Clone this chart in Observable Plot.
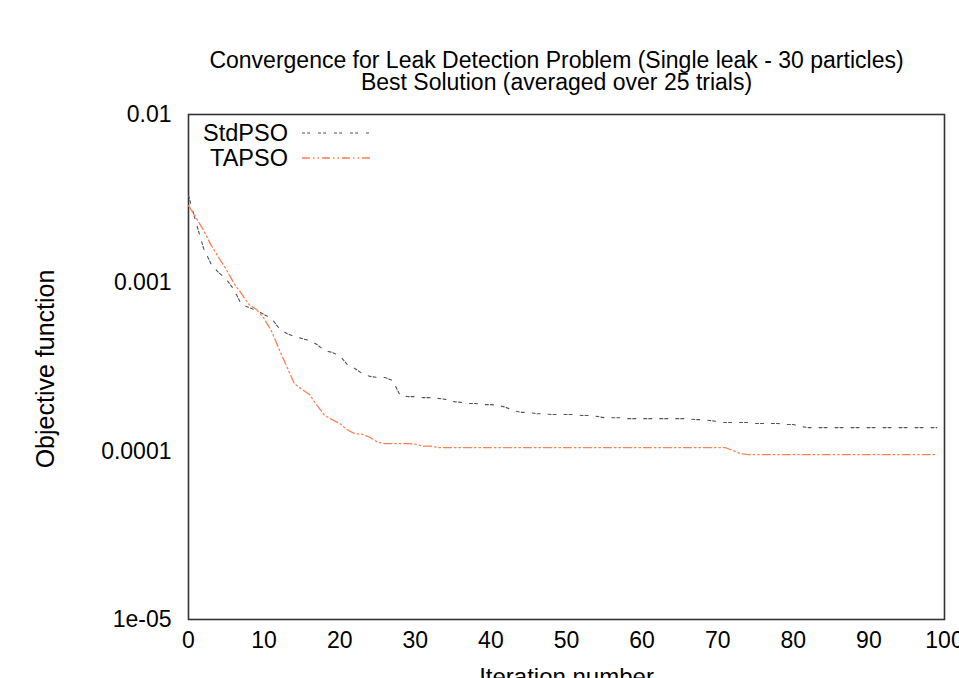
<!DOCTYPE html>
<html>
<head>
<meta charset="utf-8">
<script src="https://cdn.jsdelivr.net/npm/d3@7"></script>
<script src="https://cdn.jsdelivr.net/npm/@observablehq/plot@0.6"></script>
<style>
  html, body { margin: 0; padding: 0; background: white; overflow: hidden; }
  #wrap { position: relative; width: 959px; height: 678px; overflow: hidden; }
  #legend { position: absolute; left: 0; top: 0; pointer-events: none; }
</style>
</head>
<body>
<div id="wrap"></div>
<script>
// ---- data ----
const titleLines = [
  "Convergence for Leak Detection Problem (Single leak - 30 particles)",
  "Best Solution (averaged over 25 trials)"
];
const xLabel = "Iteration number";
const yLabel = "Objective function";
const seriesNames = ["StdPSO", "TAPSO"];
const xTicks = [0, 10, 20, 30, 40, 50, 60, 70, 80, 90, 100];
const yTicks = [1e-5, 1e-4, 1e-3, 1e-2];
const yTickLabels = ["1e-05", "0.0001", "0.001", "0.01"];

const iterations = d3.range(0, 100);

const stdPSO = [
  0.0033, 0.00228, 0.00160, 0.00129, 0.00115, 0.00105, 0.000913, 0.000744, 0.000714, 0.000685,
  0.000648, 0.000614, 0.000535, 0.000500, 0.000480, 0.000467, 0.000454, 0.000430, 0.000396, 0.000386,
  0.000370, 0.000327, 0.000310, 0.000289, 0.000278, 0.000274, 0.000274, 0.000263, 0.000214, 0.000211,
  0.000211, 0.000208, 0.000208, 0.000206, 0.000203, 0.000197, 0.000195, 0.000192, 0.000192, 0.000189,
  0.000189, 0.000187, 0.000182, 0.000174, 0.000170, 0.000170, 0.000167, 0.000167, 0.000165, 0.000165,
  0.000165, 0.000165, 0.000163, 0.000163, 0.000161, 0.000158, 0.000158, 0.000158, 0.000156, 0.000156,
  0.000156, 0.000156, 0.000156, 0.000156, 0.000156, 0.000156, 0.000156, 0.000154, 0.000154, 0.000152,
  0.000150, 0.000148, 0.000148, 0.000148, 0.000148, 0.000146, 0.000146, 0.000146, 0.000146, 0.000144,
  0.000144, 0.000140, 0.000138, 0.000138, 0.000138, 0.000138, 0.000138, 0.000138, 0.000138, 0.000138,
  0.000138, 0.000138, 0.000138, 0.000138, 0.000138, 0.000138, 0.000138, 0.000138, 0.000138, 0.000138
];

const taPSO = [
  0.00288, 0.00244, 0.00205, 0.00167, 0.00141, 0.00120, 0.000995, 0.000864, 0.000744, 0.000695,
  0.000614, 0.000514, 0.000402, 0.000318, 0.000252, 0.000233, 0.000217, 0.000187, 0.000163, 0.000154,
  0.000146, 0.000134, 0.000127, 0.000126, 0.000121, 0.000113, 0.000111, 0.000111, 0.000111, 0.000111,
  0.000110, 0.000107, 0.000107, 0.000105, 0.000105, 0.000105, 0.000105, 0.000105, 0.000105, 0.000105,
  0.000105, 0.000105, 0.000105, 0.000105, 0.000105, 0.000105, 0.000105, 0.000105, 0.000105, 0.000105,
  0.000105, 0.000105, 0.000105, 0.000105, 0.000105, 0.000105, 0.000105, 0.000105, 0.000105, 0.000105,
  0.000105, 0.000105, 0.000105, 0.000105, 0.000105, 0.000105, 0.000105, 0.000105, 0.000105, 0.000105,
  0.000105, 0.000105, 0.000101, 0.0000968, 0.0000955, 0.0000955, 0.0000955, 0.0000955, 0.0000955, 0.0000955,
  0.0000955, 0.0000955, 0.0000955, 0.0000955, 0.0000955, 0.0000955, 0.0000955, 0.0000955, 0.0000955, 0.0000955,
  0.0000955, 0.0000955, 0.0000955, 0.0000955, 0.0000955, 0.0000955, 0.0000955, 0.0000955, 0.0000955, 0.0000955
];

// ---- styles ----
const colors = ["#555555", "#ff7f50"];
const dashes = ["3,2,3,8", "8,3,1.5,3,1.5,3"];
const widths = [1.1, 1.3];
const font = "'Liberation Sans', Arial, Helvetica, sans-serif";

const rows = [];
[stdPSO, taPSO].forEach((vals, s) => {
  vals.forEach((v, k) => rows.push({series: seriesNames[s], iter: iterations[k], value: v}));
});

const yFmt = d => yTickLabels[yTicks.findIndex(t => Math.abs(t - d) / t < 1e-6)];

const chart = Plot.plot({
  width: 959,
  height: 678,
  marginLeft: 188,
  marginRight: 15,
  marginTop: 114,
  marginBottom: 59,
  style: {fontFamily: font, fontSize: "23px", background: "white", color: "#000"},
  x: {domain: [0, 100], ticks: xTicks, tickSize: 0, tickPadding: 12, label: null},
  y: {type: "log", domain: [1e-5, 1e-2], ticks: yTicks, tickFormat: yFmt,
      tickSize: 0, tickPadding: 17, label: null},
  marks: [
    Plot.frame({stroke: "#333", strokeWidth: 1.6}),
    ...seriesNames.map((name, s) =>
      Plot.line(rows.filter(r => r.series === name), {
        x: "iter", y: "value", stroke: colors[s], strokeWidth: widths[s], strokeDasharray: dashes[s]
      })
    ),
    Plot.axisX({ticks: xTicks, tickSize: 0, tickPadding: 12, fontSize: 23, label: null}),
    Plot.axisY({ticks: yTicks, tickSize: 0, tickPadding: 17, fontSize: 23, label: null, tickFormat: yFmt}),
    Plot.text([titleLines[0]], {frameAnchor: "top", dx: -10, dy: -54, fontSize: 23, lineAnchor: "middle"}),
    Plot.text([titleLines[1]], {frameAnchor: "top", dx: -10, dy: -32, fontSize: 23, lineAnchor: "middle"}),
    Plot.text([yLabel], {frameAnchor: "left", dx: -143, dy: 2, rotate: -90, fontSize: 25,
      textAnchor: "middle", lineAnchor: "middle"}),
    Plot.text([xLabel], {frameAnchor: "bottom", dy: 58, fontSize: 24, textAnchor: "middle", lineAnchor: "middle"})
  ]
});

const wrap = document.getElementById("wrap");
wrap.appendChild(chart);

// ---- legend overlay ----
const leg = d3.select(wrap).append("svg")
  .attr("id", "legend").attr("width", 959).attr("height", 678);
const legendRowsY = [133, 158];
seriesNames.forEach((name, s) => {
  const g = leg.append("g").attr("transform", `translate(0,${legendRowsY[s]})`);
  g.append("text").attr("x", 288).attr("dy", "0.35em").attr("text-anchor", "end")
    .attr("font-family", font).attr("font-size", 23.5).attr("fill", "#000").text(name);
  g.append("line").attr("x1", 302).attr("x2", 370).attr("y1", 0).attr("y2", 0)
    .attr("stroke", colors[s]).attr("stroke-width", widths[s]).attr("stroke-dasharray", dashes[s]);
});
</script>
</body>
</html>
